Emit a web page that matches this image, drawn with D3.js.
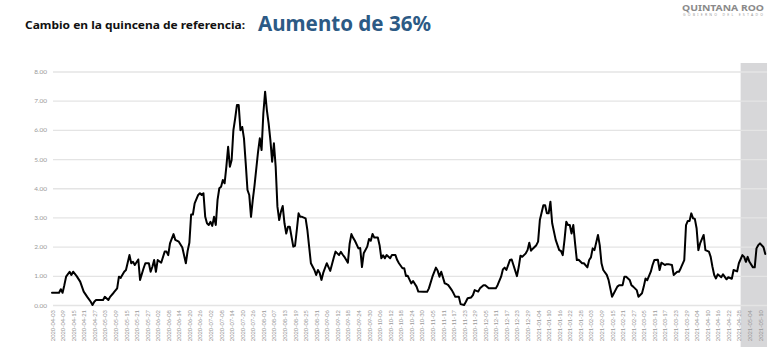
<!DOCTYPE html>
<html><head><meta charset="utf-8">
<script src="https://cdn.jsdelivr.net/npm/d3@7"></script>
<style>
html,body{margin:0;padding:0;background:#fff;}
svg{display:block;}
</style></head>
<body>
<svg id="chart" width="768" height="352"></svg>
<script>
// ---- data ----
const startDate = "2020-04-03";
const dayIndex = [0,2,4,5,6,7,8,10,11,12,14,16,18,20,22,23,24,25,27,29,30,32,33,35,37,38,39,41,42,44,45,46,47,49,50,52,53,55,56,57,58,59,60,62,64,65,66,67,69,70,72,74,76,77,78,79,80,81,83,84,85,86,87,88,89,90,91,92,93,94,95,96,97,98,99,100,101,102,103,104,105,106,107,108,109,110,111,112,113,114,115,117,118,119,120,121,122,123,124,125,126,127,128,129,130,131,132,133,134,135,137,138,139,140,141,142,144,145,146,147,149,150,151,152,153,154,156,157,158,160,161,163,164,165,166,168,169,170,171,172,174,175,176,177,179,180,181,182,183,185,186,187,188,189,190,192,193,195,196,197,199,200,201,202,204,205,207,208,211,213,214,216,218,219,220,221,223,224,225,227,228,229,231,232,234,235,236,238,239,240,242,243,245,246,248,251,252,253,255,256,257,258,260,261,262,264,265,266,267,269,270,271,272,273,275,276,277,279,280,281,282,283,284,286,288,289,290,291,292,293,294,295,296,297,298,299,301,302,304,305,306,307,308,310,311,312,313,315,316,318,321,322,324,325,326,328,329,330,332,333,335,336,337,338,340,341,342,344,345,346,348,349,350,352,353,355,356,357,359,360,361,362,363,364,365,366,367,368,370,371,373,374,375,376,377,378,380,381,383,384,386,387,389,390,392,393,394,395,396,398,399,400,401,402,404,405];
const values = [0.42,0.42,0.42,0.54,0.42,0.68,0.97,1.14,1.03,1.14,0.99,0.80,0.46,0.28,0.11,0.00,0.11,0.17,0.17,0.17,0.28,0.17,0.28,0.42,0.57,0.97,0.93,1.14,1.20,1.71,1.43,1.48,1.37,1.56,0.86,1.26,1.43,1.43,1.14,1.31,1.54,1.14,1.54,1.45,1.83,1.83,1.71,2.11,2.43,2.23,2.17,1.97,1.43,1.85,2.13,3.10,3.10,3.48,3.77,3.83,3.77,3.83,3.02,2.80,2.74,2.85,2.71,3.02,2.74,3.60,4.00,4.05,4.28,4.17,4.74,5.42,4.74,4.97,5.99,6.39,6.85,6.85,5.99,6.10,5.71,4.85,3.94,3.77,3.02,3.60,4.10,5.25,5.71,5.31,6.56,7.31,6.68,6.22,5.65,4.91,5.54,4.74,3.37,2.91,3.20,3.39,2.80,2.45,2.68,2.68,2.00,2.03,2.57,3.14,3.02,3.02,2.97,2.57,2.00,1.43,1.20,1.03,1.20,1.10,0.86,1.10,1.43,1.30,1.17,1.63,1.83,1.71,1.82,1.73,1.65,1.45,2.10,2.43,2.30,2.20,1.94,1.95,1.30,1.77,2.00,2.26,2.20,2.43,2.31,2.31,2.05,1.60,1.70,1.60,1.71,1.60,1.71,1.71,1.54,1.43,1.26,1.26,0.99,1.00,0.74,0.82,0.63,0.46,0.45,0.45,0.57,0.97,1.28,1.17,0.97,1.14,0.74,0.72,0.68,0.51,0.40,0.28,0.28,0.03,0.00,0.11,0.23,0.26,0.34,0.51,0.46,0.57,0.68,0.68,0.57,0.57,0.57,0.68,0.97,1.22,1.28,1.20,1.54,1.56,1.37,0.99,1.30,1.69,1.65,1.77,1.88,2.13,1.86,1.93,2.05,2.17,2.91,3.42,3.42,3.14,3.14,3.54,2.80,2.23,1.88,1.85,1.71,2.23,2.85,2.74,2.74,2.45,2.74,2.11,1.54,1.55,1.43,1.43,1.29,1.54,1.63,1.94,1.88,2.40,2.05,1.43,1.20,1.03,0.86,0.28,0.63,0.68,0.68,0.97,0.97,0.86,0.68,0.63,0.51,0.28,0.40,0.63,0.91,0.85,1.14,1.37,1.54,1.55,1.20,1.45,1.37,1.40,1.40,1.37,1.03,1.14,1.14,1.26,1.54,2.74,2.88,2.88,3.14,2.97,2.95,2.63,1.88,2.11,2.40,1.88,1.83,1.65,1.31,1.03,0.91,1.05,0.95,1.05,0.88,0.95,0.90,1.20,1.15,1.43,1.71,1.65,1.48,1.65,1.48,1.29,1.29,1.94,2.05,2.11,1.98,1.75,1.75,1.29,1.56];
const yTicks = [0,1,2,3,4,5,6,7,8];
const tickLabels = ["2020-04-03","2020-04-09","2020-04-15","2020-04-21","2020-04-27","2020-05-03","2020-05-09","2020-05-15","2020-05-21","2020-05-27","2020-06-02","2020-06-08","2020-06-14","2020-06-20","2020-06-26","2020-07-02","2020-07-08","2020-07-14","2020-07-20","2020-07-26","2020-08-01","2020-08-07","2020-08-13","2020-08-19","2020-08-25","2020-08-31","2020-09-06","2020-09-12","2020-09-18","2020-09-24","2020-09-30","2020-10-06","2020-10-12","2020-10-18","2020-10-24","2020-10-30","2020-11-05","2020-11-11","2020-11-17","2020-11-23","2020-11-29","2020-12-05","2020-12-11","2020-12-17","2020-12-23","2020-12-29","2021-01-04","2021-01-10","2021-01-16","2021-01-22","2021-01-28","2021-02-03","2021-02-09","2021-02-15","2021-02-21","2021-02-27","2021-03-05","2021-03-11","2021-03-17","2021-03-23","2021-03-29","2021-04-04","2021-04-10","2021-04-16","2021-04-22","2021-04-28","2021-05-04","2021-05-10"];
const shadeRange = ["2021-04-29","2021-05-14"];
const titleLabel = "Cambio en la quincena de referencia:";
const titleValue = "Aumento de 36%";

// ---- drawing ----
const parse = d3.timeParse("%Y-%m-%d");
const start = parse(startDate);
const data = dayIndex.map((d,i)=>({date:d3.timeDay.offset(start,d), v:values[i]}));
const tickDates = tickLabels.map(parse);

const svg = d3.select("#chart");
const x = d3.scaleTime().domain([tickDates[0], tickDates[tickDates.length-1]]).range([52,760]);
const y = d3.scaleLinear().domain([0,8]).range([305,71.5]);

// shaded reference period
svg.append("rect")
  .attr("x", x(parse(shadeRange[0])))
  .attr("y", 63)
  .attr("width", x(parse(shadeRange[1])) - x(parse(shadeRange[0])))
  .attr("height", 284)
  .attr("fill", "#d7d7d9");

// gridlines + y labels
const yAxis = d3.axisLeft(y).tickValues(yTicks).tickFormat(d3.format(".2f"))
  .tickSize(-(767-53)).tickPadding(6);
const gy = svg.append("g").attr("transform","translate(53,0)").call(yAxis);
gy.select(".domain").remove();
gy.selectAll(".tick line").attr("stroke","#e4e4e4").attr("stroke-width",1.3);
gy.selectAll(".tick text").attr("fill","#9a9a9a").attr("font-size","6.5px")
  .attr("font-family","Lato, 'Open Sans', sans-serif");

// x axis labels
const xAxis = d3.axisBottom(x).tickValues(tickDates).tickFormat(d3.timeFormat("%Y-%m-%d")).tickSize(0);
const gx = svg.append("g").attr("transform","translate(0,305)").call(xAxis);
gx.select(".domain").remove();
gx.selectAll(".tick text")
  .attr("transform","rotate(-90)")
  .attr("text-anchor","end")
  .attr("x",-5).attr("y",0).attr("dy","0.35em")
  .attr("fill","#9a9a9a").attr("font-size","5.8px")
  .attr("font-family","Lato, 'Open Sans', sans-serif");

// line
const line = d3.line().x(d=>x(d.date)).y(d=>y(d.v)).curve(d3.curveLinear);
svg.append("path").datum(data)
  .attr("d", line)
  .attr("fill","none").attr("stroke","#000").attr("stroke-width",2)
  .attr("stroke-linejoin","round").attr("stroke-linecap","round");

// titles
svg.append("text").attr("x",25).attr("y",28.5)
  .attr("font-family","'Noto Sans', 'DejaVu Sans', sans-serif").attr("font-weight","bold")
  .attr("font-size","10.5px").attr("fill","#111")
  .attr("textLength",220).attr("lengthAdjust","spacingAndGlyphs")
  .text(titleLabel);
svg.append("text").attr("x",258).attr("y",31)
  .attr("font-family","'Noto Sans', 'DejaVu Sans', sans-serif").attr("font-weight","bold")
  .attr("font-size","22px").attr("fill","#2c5a85")
  .attr("textLength",173).attr("lengthAdjust","spacingAndGlyphs")
  .text(titleValue);

// logo text
svg.append("text").attr("x",682).attr("y",10.5)
  .attr("font-family","'Noto Sans', sans-serif").attr("font-weight","bold")
  .attr("font-size","9.5px").attr("fill","#8a8a8a")
  .attr("textLength",82).attr("lengthAdjust","spacingAndGlyphs")
  .text("QUINTANA ROO");
svg.append("text").attr("x",683).attr("y",16)
  .attr("font-family","'Noto Sans', sans-serif")
  .attr("font-size","3.5px").attr("fill","#9a9a9a")
  .attr("textLength",80).attr("lengthAdjust","spacing")
  .text("GOBIERNO DEL ESTADO");
</script>
</body></html>
